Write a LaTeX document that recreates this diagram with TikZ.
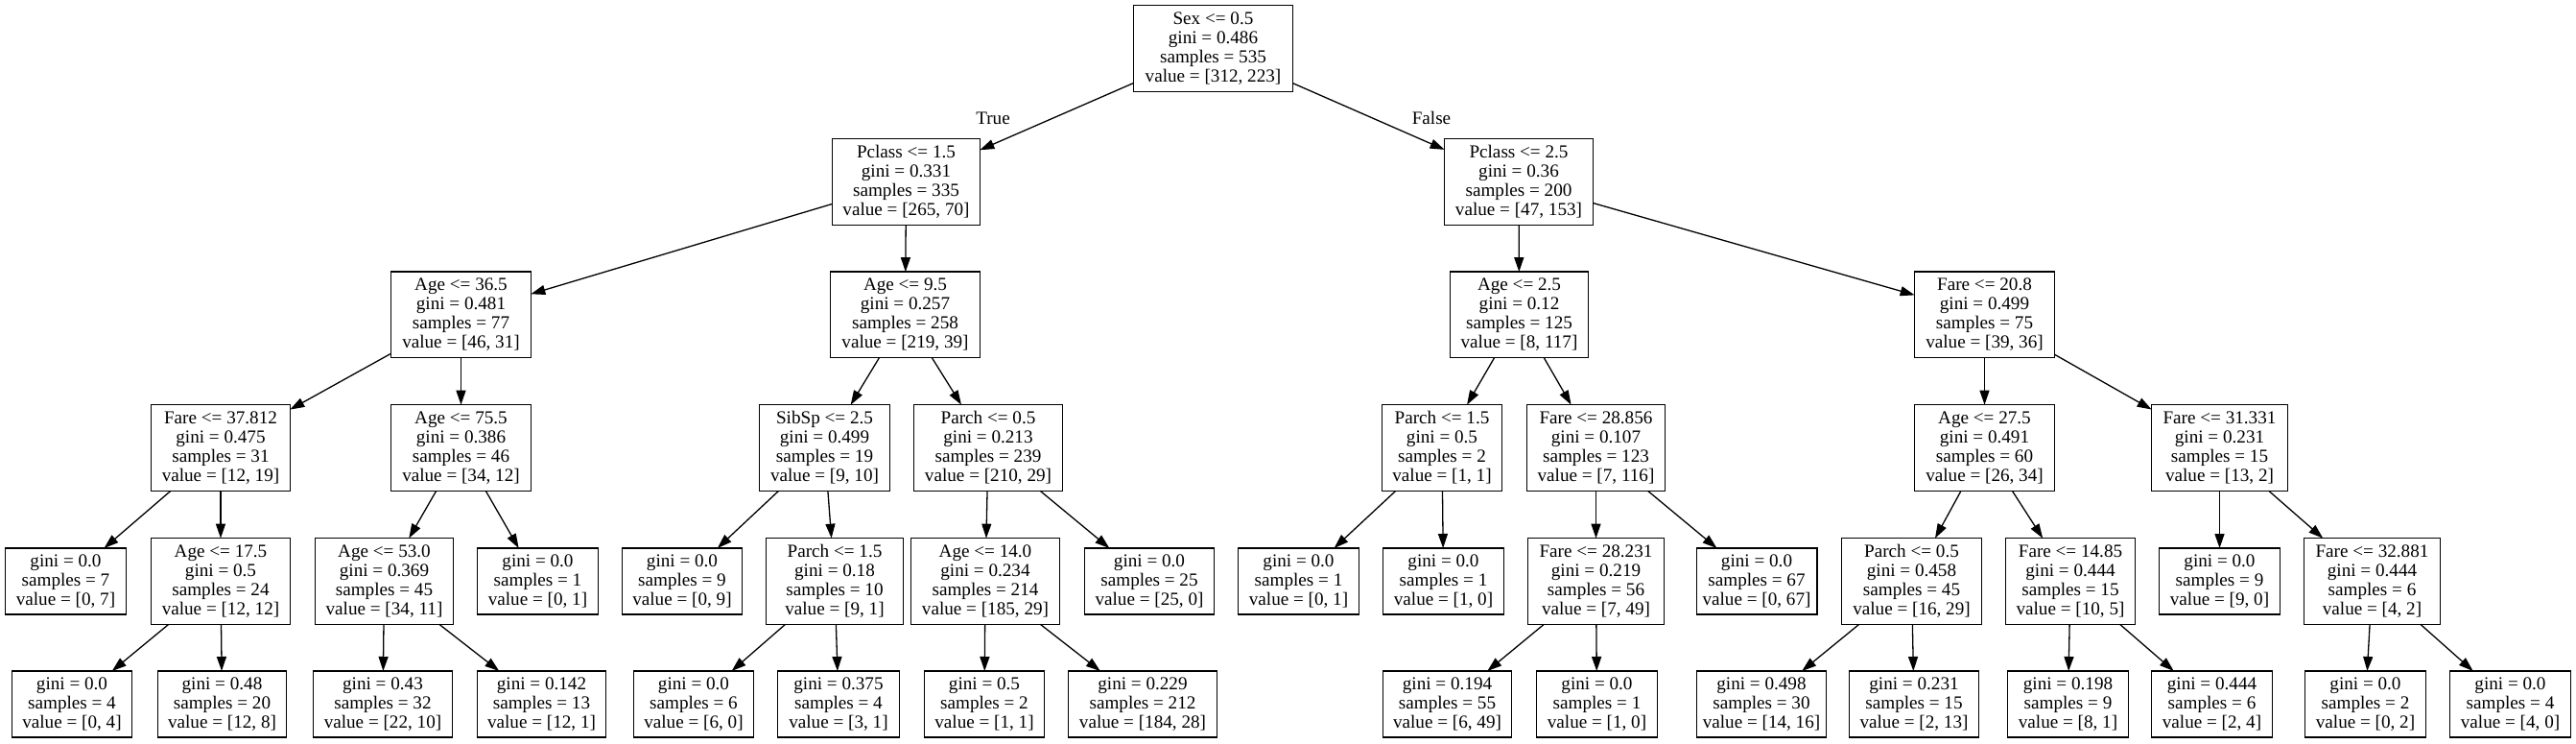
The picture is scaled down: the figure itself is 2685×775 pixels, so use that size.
\documentclass[tikz,border=0pt]{standalone}
\usepackage{fontspec}
\setmainfont{Liberation Serif}
\usetikzlibrary{arrows.meta}
\begin{document}
\begin{tikzpicture}[x=1pt,y=-1pt,
  box/.style={draw, line width=1.3pt, rectangle, align=center, inner xsep=6pt, inner ysep=2pt, outer sep=0pt,
    font=\fontsize{19.15pt}{20pt}\selectfont},
  inode/.style={box, minimum height=89.7pt, minimum width=#1pt-1.3pt},
  leaf/.style={box, minimum height=69pt, minimum width=#1pt-1.3pt},
  conn/.style={line width=1.3pt, -{Triangle[length=15pt,width=10pt]}},
  lbl/.style={font=\fontsize{19.15pt}{20pt}\selectfont, inner sep=0pt}]
\useasboundingbox (0,0) rectangle (2685,775);
% Row A
\node[inode=167] (sex) at (1264.5,50.5) {Sex <= 0.5\\gini = 0.486\\samples = 535\\value = [312, 223]};
% Row B
\node[inode=155] (p15) at (944.5,189.5) {Pclass <= 1.5\\gini = 0.331\\samples = 335\\value = [265, 70]};
\node[inode=156] (p25) at (1583,189.5) {Pclass <= 2.5\\gini = 0.36\\samples = 200\\value = [47, 153]};
% Row C
\node[inode=147] (a365) at (480.5,328) {Age <= 36.5\\gini = 0.481\\samples = 77\\value = [46, 31]};
\node[inode=157] (a95) at (943.5,328) {Age <= 9.5\\gini = 0.257\\samples = 258\\value = [219, 39]};
\node[inode=145] (a25) at (1583.5,328) {Age <= 2.5\\gini = 0.12\\samples = 125\\value = [8, 117]};
\node[inode=147] (f208) at (2068.5,328) {Fare <= 20.8\\gini = 0.499\\samples = 75\\value = [39, 36]};
% Row D
\node[inode=146] (f378) at (230,466.5) {Fare <= 37.812\\gini = 0.475\\samples = 31\\value = [12, 19]};
\node[inode=147] (a755) at (480.5,466.5) {Age <= 75.5\\gini = 0.386\\samples = 46\\value = [34, 12]};
\node[inode=137] (sib) at (859.5,466.5) {SibSp <= 2.5\\gini = 0.499\\samples = 19\\value = [9, 10]};
\node[inode=156] (pa05) at (1030,466.5) {Parch <= 0.5\\gini = 0.213\\samples = 239\\value = [210, 29]};
\node[inode=126] (pa15r) at (1503,466.5) {Parch <= 1.5\\gini = 0.5\\samples = 2\\value = [1, 1]};
\node[inode=145] (f28856) at (1663.5,466.5) {Fare <= 28.856\\gini = 0.107\\samples = 123\\value = [7, 116]};
\node[inode=147] (a275) at (2068.5,466.5) {Age <= 27.5\\gini = 0.491\\samples = 60\\value = [26, 34]};
\node[inode=143] (f31331) at (2313.5,466.5) {Fare <= 31.331\\gini = 0.231\\samples = 15\\value = [13, 2]};
% Row E
\node[leaf=127] (ls7) at (68.5,605.5) {gini = 0.0\\samples = 7\\value = [0, 7]};
\node[inode=146] (a175) at (230,605.5) {Age <= 17.5\\gini = 0.5\\samples = 24\\value = [12, 12]};
\node[inode=145] (a530) at (400.5,605.5) {Age <= 53.0\\gini = 0.369\\samples = 45\\value = [34, 11]};
\node[leaf=127] (ls1a) at (560.5,605.5) {gini = 0.0\\samples = 1\\value = [0, 1]};
\node[leaf=126] (ls9) at (711,605.5) {gini = 0.0\\samples = 9\\value = [0, 9]};
\node[inode=144] (pa15l) at (870,605.5) {Parch <= 1.5\\gini = 0.18\\samples = 10\\value = [9, 1]};
\node[inode=156] (a140) at (1027,605.5) {Age <= 14.0\\gini = 0.234\\samples = 214\\value = [185, 29]};
\node[leaf=136] (ls25) at (1198,605.5) {gini = 0.0\\samples = 25\\value = [25, 0]};
\node[leaf=127] (ls1b) at (1353.5,605.5) {gini = 0.0\\samples = 1\\value = [0, 1]};
\node[leaf=127] (ls1c) at (1504.5,605.5) {gini = 0.0\\samples = 1\\value = [1, 0]};
\node[inode=143] (f28231) at (1663.5,605.5) {Fare <= 28.231\\gini = 0.219\\samples = 56\\value = [7, 49]};
\node[leaf=127] (ls67) at (1831,605.5) {gini = 0.0\\samples = 67\\value = [0, 67]};
\node[inode=147] (pa05r) at (1992.5,605.5) {Parch <= 0.5\\gini = 0.458\\samples = 45\\value = [16, 29]};
\node[inode=136] (f1485) at (2158,605.5) {Fare <= 14.85\\gini = 0.444\\samples = 15\\value = [10, 5]};
\node[leaf=127] (ls9b) at (2313.5,605.5) {gini = 0.0\\samples = 9\\value = [9, 0]};
\node[inode=143] (f32881) at (2472.5,605.5) {Fare <= 32.881\\gini = 0.444\\samples = 6\\value = [4, 2]};
% Row F
\node[leaf=126] (l04) at (75,733.5) {gini = 0.0\\samples = 4\\value = [0, 4]};
\node[leaf=135] (l048) at (231.5,733.5) {gini = 0.48\\samples = 20\\value = [12, 8]};
\node[leaf=146] (l043) at (399,733.5) {gini = 0.43\\samples = 32\\value = [22, 10]};
\node[leaf=135] (l0142) at (564.5,733.5) {gini = 0.142\\samples = 13\\value = [12, 1]};
\node[leaf=126] (ls6) at (723,733.5) {gini = 0.0\\samples = 6\\value = [6, 0]};
\node[leaf=128] (l0375) at (874,733.5) {gini = 0.375\\samples = 4\\value = [3, 1]};
\node[leaf=126] (l05) at (1026,733.5) {gini = 0.5\\samples = 2\\value = [1, 1]};
\node[leaf=156] (l0229) at (1191,733.5) {gini = 0.229\\samples = 212\\value = [184, 28]};
\node[leaf=135] (l0194) at (1508.5,733.5) {gini = 0.194\\samples = 55\\value = [6, 49]};
\node[leaf=127] (ls1d) at (1664.5,733.5) {gini = 0.0\\samples = 1\\value = [1, 0]};
\node[leaf=134] (l0498) at (1836,733.5) {gini = 0.498\\samples = 30\\value = [14, 16]};
\node[leaf=136] (l0231) at (1995,733.5) {gini = 0.231\\samples = 15\\value = [2, 13]};
\node[leaf=127] (l0198) at (2155.5,733.5) {gini = 0.198\\samples = 9\\value = [8, 1]};
\node[leaf=127] (l0444) at (2305.5,733.5) {gini = 0.444\\samples = 6\\value = [2, 4]};
\node[leaf=127] (ls2) at (2465.5,733.5) {gini = 0.0\\samples = 2\\value = [0, 2]};
\node[leaf=127] (ls4) at (2616.5,733.5) {gini = 0.0\\samples = 4\\value = [4, 0]};
% labels
\node[lbl] (tlab) at (1035,123) {True};
\node[lbl] (flab) at (1492,123) {False};
% edges
\draw[conn] (sex) -- (p15);
\draw[conn] (sex) -- (p25);
\draw[conn] (p15) -- (a365);
\draw[conn] (p15) -- (a95);
\draw[conn] (p25) -- (a25);
\draw[conn] (p25) -- (f208);
\draw[conn] (a365) -- (f378);
\draw[conn] (a365) -- (a755);
\draw[conn] (a95) -- (sib);
\draw[conn] (a95) -- (pa05);
\draw[conn] (a25) -- (pa15r);
\draw[conn] (a25) -- (f28856);
\draw[conn] (f208) -- (a275);
\draw[conn] (f208) -- (f31331);
\draw[conn] (f378) -- (ls7);
\draw[conn] (f378) -- (a175);
\draw[conn] (a755) -- (a530);
\draw[conn] (a755) -- (ls1a);
\draw[conn] (sib) -- (ls9);
\draw[conn] (sib) -- (pa15l);
\draw[conn] (pa05) -- (a140);
\draw[conn] (pa05) -- (ls25);
\draw[conn] (pa15r) -- (ls1b);
\draw[conn] (pa15r) -- (ls1c);
\draw[conn] (f28856) -- (f28231);
\draw[conn] (f28856) -- (ls67);
\draw[conn] (a275) -- (pa05r);
\draw[conn] (a275) -- (f1485);
\draw[conn] (f31331) -- (ls9b);
\draw[conn] (f31331) -- (f32881);
\draw[conn] (a175) -- (l04);
\draw[conn] (a175) -- (l048);
\draw[conn] (a530) -- (l043);
\draw[conn] (a530) -- (l0142);
\draw[conn] (pa15l) -- (ls6);
\draw[conn] (pa15l) -- (l0375);
\draw[conn] (a140) -- (l05);
\draw[conn] (a140) -- (l0229);
\draw[conn] (f28231) -- (l0194);
\draw[conn] (f28231) -- (ls1d);
\draw[conn] (pa05r) -- (l0498);
\draw[conn] (pa05r) -- (l0231);
\draw[conn] (f1485) -- (l0198);
\draw[conn] (f1485) -- (l0444);
\draw[conn] (f32881) -- (ls2);
\draw[conn] (f32881) -- (ls4);
\end{tikzpicture}
\end{document}
